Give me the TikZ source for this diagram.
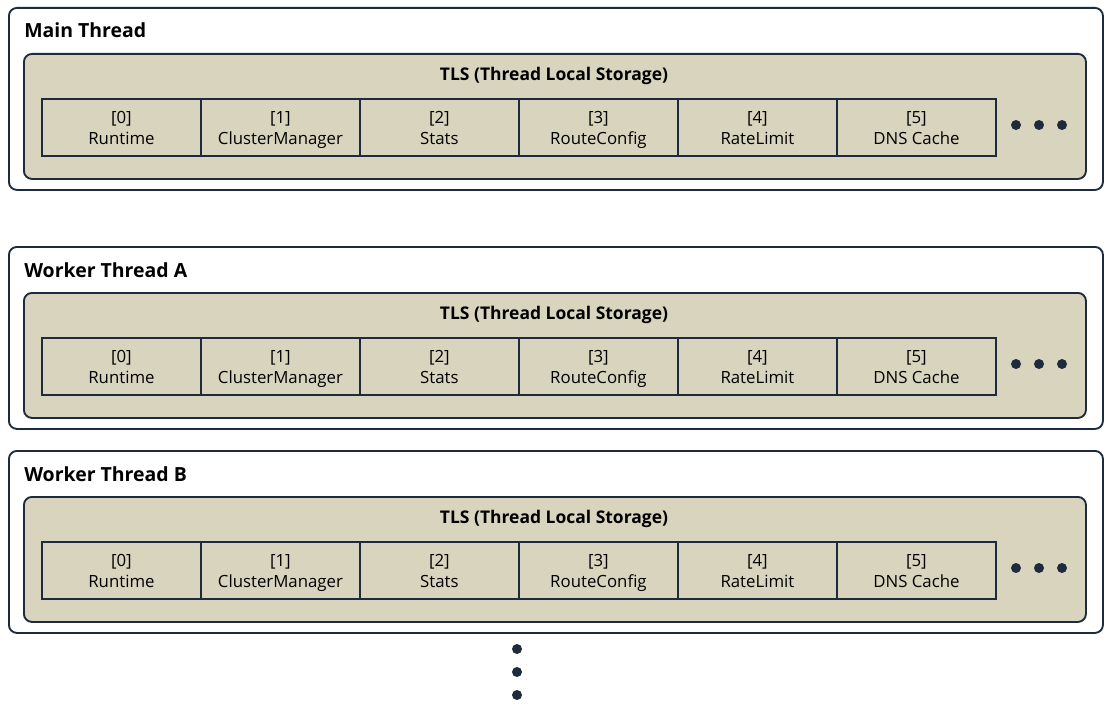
\documentclass[tikz,border=0pt]{standalone}
\usepackage{fontspec}
\setmainfont{Open Sans}
\usetikzlibrary{positioning}
\definecolor{tlsfill}{RGB}{217,212,190}
\definecolor{framenavy}{RGB}{30,43,60}

\begin{document}
\begin{tikzpicture}[x=0.75pt,y=-0.75pt,
  threadbox/.style={draw=framenavy,line width=1.4pt,rounded corners=6pt,fill=white,
    anchor=north west,minimum width=820.5pt,minimum height=136.5pt,inner sep=0pt},
  tlsbox/.style={draw=framenavy,line width=1.4pt,rounded corners=6pt,fill=tlsfill,
    anchor=north west,minimum width=796.5pt,minimum height=93.75pt,inner sep=0pt},
  slotbox/.style={draw=framenavy,line width=1.4pt,anchor=north west,align=center,
    minimum width=119.25pt,minimum height=42.75pt,inner sep=0pt,
    font=\fontsize{12.6}{15.5}\selectfont},
  threadtitle/.style={anchor=base west,inner sep=0pt,font=\fontsize{14.6}{16}\selectfont\bfseries},
  tlstitle/.style={inner sep=0pt,font=\fontsize{13.1}{15}\selectfont\bfseries},
  moredot/.style={circle,fill=framenavy,minimum size=7.5pt,inner sep=0pt}]
\useasboundingbox (0,0) rectangle (1110,710);
% one frame per thread
\foreach \tname/\ty/\tid in {Main Thread/7/main,Worker Thread A/246/wa,Worker Thread B/450/wb}{
  \node[threadbox] (\tid) at (8,\ty) {};
  \node[threadtitle] (\tid-title) at (24,\ty+31) {\tname};
  \node[tlsbox] (\tid-tls) at (23,\ty+46) {};
  \node[tlstitle] (\tid-tlstitle) at (554,\ty+69) {TLS (Thread Local Storage)};
  % slots
  \foreach \i/\slot in {0/Runtime,1/ClusterManager,2/Stats,3/RouteConfig,4/RateLimit,5/DNS Cache}{
    \node[slotbox] (\tid-s\i) at ({41+159*\i},\ty+91) {\rule{0pt}{14pt}[\i]\\\strut\slot};
  }
  % more slots
  \foreach \k/\dx in {1/1016,2/1039,3/1062}{
    \node[moredot] (\tid-dot\k) at (\dx,\ty+118) {};
  }
}
% more threads
\foreach \k/\dy in {1/649,2/672,3/695}{
  \node[moredot] (more\k) at (517,\dy) {};
}
\end{tikzpicture}
\end{document}
